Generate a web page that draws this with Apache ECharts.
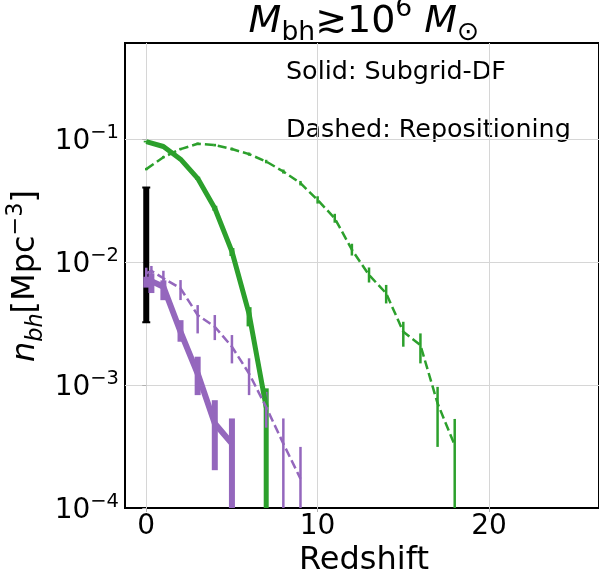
<!DOCTYPE html>
<html>
<head>
<meta charset="utf-8">
<script src="https://cdn.jsdelivr.net/npm/echarts@6/dist/echarts.min.js"></script>
<style>html,body{margin:0;padding:0;background:#fff}#c{width:599px;height:577px}</style>
</head>
<body>
<div id="c"></div>
<script>
// ---- data ----
const xTicks = [0, 10, 20];
const yTicks = [1e-4, 1e-3, 1e-2, 1e-1];

// Subgrid-DF (green, solid)
const gsZ  = [0, 1, 2, 3, 4, 5, 6, 7];
const gsN  = [0.0955, 0.0871, 0.0687, 0.048, 0.0274, 0.0122, 0.0038, 0.00066];
const gsLo = [0.094, 0.0855, 0.0672, 0.0466, 0.0262, 0.0112, 0.0030, 1e-6];
const gsHi = [0.097, 0.0887, 0.0702, 0.0494, 0.0287, 0.0130, 0.0043, 0.00094];

// Repositioning (green, dashed)
const gdZ  = [0, 1, 2, 3, 4, 5, 6, 7, 8, 9, 10, 11, 12, 13, 14, 15, 16, 17, 18];
const gdN  = [0.057, 0.0713, 0.083, 0.0916, 0.0894, 0.083, 0.0755, 0.0657, 0.0545, 0.0438, 0.032, 0.0227, 0.0126, 0.00785, 0.00557, 0.00271, 0.00211, 0.00071, 0.000324];
const gdLo = [0.0557, 0.0697, 0.0812, 0.0896, 0.0872, 0.0809, 0.0733, 0.0636, 0.0525, 0.0420, 0.0299, 0.0209, 0.0113, 0.00682, 0.00461, 0.00205, 0.0015, 0.000314, 1e-6];
const gdHi = [0.0583, 0.0730, 0.0849, 0.0937, 0.0916, 0.0852, 0.0778, 0.0679, 0.0566, 0.0457, 0.0343, 0.0247, 0.0141, 0.00904, 0.00652, 0.00327, 0.00263, 0.000966, 0.00053];

// Subgrid-DF (purple, solid)
const psZ  = [0, 0.3, 1, 2, 3, 4, 5];
const psN  = [0.00693, 0.0070, 0.0063, 0.00271, 0.00124, 0.000487, 0.000334];
const psLo = [0.0062, 0.0056, 0.0049, 0.00225, 0.000828, 0.000203, 1e-6];
const psHi = [0.0076, 0.0081, 0.0071, 0.00337, 0.0017, 0.000753, 0.000535];

// Repositioning (purple, dashed)
const pdZ  = [0, 0.3, 1, 2, 3, 4, 5, 6, 7, 8, 9];
const pdN  = [0.0081, 0.0085, 0.00738, 0.00612, 0.00371, 0.00298, 0.00205, 0.00124, 0.00066, 0.000334, 0.000173];
const pdLo = [0.0072, 0.0070, 0.0064, 0.00491, 0.00263, 0.00232, 0.0015, 0.000828, 0.00045, 1e-6, 1e-6];
const pdHi = [0.0090, 0.0093, 0.0085, 0.00714, 0.00447, 0.00371, 0.00255, 0.00165, 0.00088, 0.000535, 0.000314];

// Observational constraint (black)
const obsZ = [0];
const obsLo = [0.00324];
const obsHi = [0.0404];

// ---- chart ----
const FF = 'DejaVu Sans';
const GREEN = '#2ca02c', PURPLE = '#9467bd';
const chart = echarts.init(document.getElementById('c'), null, {renderer: 'canvas'});

function pts(z, n) { return z.map((v, i) => [v, n[i]]); }
function errs(z, lo, hi) { return z.map((v, i) => [v, lo[i], hi[i]]); }

function errRender(width, color, cap) {
  return function (params, api) {
    const x = api.value(0), lo = api.value(1), hi = api.value(2);
    const p1 = api.coord([x, hi]);
    const p2 = api.coord([x, lo]);
    const cs = params.coordSys;
    const yTop = cs.y, yBot = cs.y + cs.height;
    const y1 = Math.max(p1[1], yTop), y2 = Math.min(p2[1], yBot);
    const children = [{type: 'line', shape: {x1: p1[0], y1: y1, x2: p1[0], y2: y2},
      style: {stroke: color, lineWidth: width, lineCap: 'butt'}}];
    if (cap) {
      children.push({type: 'line', shape: {x1: p1[0] - cap, y1: y1, x2: p1[0] + cap, y2: y1}, style: {stroke: color, lineWidth: 2}});
      children.push({type: 'line', shape: {x1: p1[0] - cap, y1: y2, x2: p1[0] + cap, y2: y2}, style: {stroke: color, lineWidth: 2}});
    }
    return {type: 'group', children: children};
  };
}

function lineSeries(z, n, color, width, dashed) {
  return {
    type: 'line', data: pts(z, n), symbol: 'none', smooth: false, clip: true,
    lineStyle: {color: color, width: width, type: dashed ? [9, 4] : 'solid', cap: 'butt', join: 'round'},
    z: 3, animation: false
  };
}
function errSeries(z, lo, hi, color, width, cap) {
  return {
    type: 'custom', data: errs(z, lo, hi), renderItem: errRender(width, color, cap),
    encode: {x: 0, y: [1, 2]}, z: 3, animation: false, clip: true
  };
}

const tickFmt = v => {
  const e = Math.round(Math.log10(v));
  return '{b|10}{s|\u2212' + Math.abs(e) + '}';
};

const option = {
  animation: false,
  backgroundColor: '#fff',
  grid: {left: 125, top: 43, right: -4, bottom: 69, show: true, borderColor: '#000', borderWidth: 2, backgroundColor: 'transparent'},
  xAxis: {
    type: 'value', min: -1.24, max: 26.42, splitNumber: 3,
    axisLine: {show: false},
    axisTick: {show: true, length: 4, lineStyle: {color: '#b0b0b0', width: 1}},
    axisLabel: {fontFamily: FF, fontSize: 28, color: '#000', margin: 5, showMinLabel: false, showMaxLabel: false,
      formatter: v => (xTicks.indexOf(v) >= 0 ? String(v) : '')},
    splitLine: {show: true, showMinLine: false, showMaxLine: false, lineStyle: {color: '#d6d6d6', width: 1}}
  },
  yAxis: {
    type: 'log', logBase: 10, min: yTicks[0], max: 0.605,
    axisLine: {show: false},
    axisTick: {show: true, length: 4, lineStyle: {color: '#b0b0b0', width: 1}},
    axisLabel: {
      fontFamily: FF, color: '#000', margin: 6, showMaxLabel: false,
      formatter: tickFmt,
      rich: {
        b: {fontFamily: FF, fontSize: 28, verticalAlign: 'bottom', color: '#000'},
        s: {fontFamily: FF, fontSize: 19.5, verticalAlign: 'bottom', padding: [0, 0, 12.8, 0], color: '#000'}
      }
    },
    splitLine: {show: true, showMinLine: false, showMaxLine: false, lineStyle: {color: '#d6d6d6', width: 1}}
  },
  series: [
    errSeries(obsZ, obsLo, obsHi, '#000', 6, 4),
    lineSeries(gsZ, gsN, GREEN, 5, false),
    errSeries(gsZ, gsLo, gsHi, GREEN, 5),
    lineSeries(psZ, psN, PURPLE, 6, false),
    errSeries(psZ, psLo, psHi, PURPLE, 6),
    lineSeries(gdZ, gdN, GREEN, 2.5, true),
    errSeries(gdZ, gdLo, gdHi, GREEN, 2.5),
    lineSeries(pdZ, pdN, PURPLE, 2.5, true),
    errSeries(pdZ, pdLo, pdHi, PURPLE, 2.5)
  ],
  graphic: [
    { // title
      type: 'text', x: 364, y: 46.85, silent: true,
      style: {
        text: '{m|M}{sb|bh}{n|\u227310}{sp|6}{n| }{m|M}{sb|\u2299}',
        textAlign: 'center', textVerticalAlign: 'bottom',
        fontFamily: FF, fontSize: 38, fill: '#000',
        rich: {
          m: {fontFamily: FF, fontSize: 38, fontStyle: 'italic', verticalAlign: 'bottom', padding: [0, 0, 6, 0]},
          n: {fontFamily: FF, fontSize: 38, verticalAlign: 'bottom', padding: [0, 0, 6, 0]},
          sb: {fontFamily: FF, fontSize: 26.6, verticalAlign: 'bottom', padding: [0, 0, 0.75, 0]},
          sp: {fontFamily: FF, fontSize: 26.6, verticalAlign: 'bottom', padding: [0, 0, 24.45, 0]}
        }
      }
    },
    {
      type: 'text', x: 286, y: 81.7 - 8.8, silent: true,
      style: {text: 'Solid: Subgrid-DF', fontFamily: FF, fontSize: 25.4, fill: '#000', textAlign: 'left', textVerticalAlign: 'middle'}
    },
    {
      type: 'text', x: 286, y: 139.3 - 8.8, silent: true,
      style: {text: 'Dashed: Repositioning', fontFamily: FF, fontSize: 25.4, fill: '#000', textAlign: 'left', textVerticalAlign: 'middle'}
    },
    {
      type: 'text', x: 364, y: 571.7 - 11.07, silent: true,
      style: {text: 'Redshift', fontFamily: FF, fontSize: 32, fill: '#000', textAlign: 'center', textVerticalAlign: 'middle'}
    },
    { // y-axis label, rotated
      type: 'text', x: 47.9, y: 276, rotation: Math.PI / 2, silent: true,
      style: {
        text: '{i|n}{is|bh}{r|[Mpc}{sp|\u22123}{r|]}',
        textAlign: 'center', textVerticalAlign: 'bottom',
        fontFamily: FF, fontSize: 32, fill: '#000',
        rich: {
          i: {fontFamily: FF, fontSize: 32, fontStyle: 'italic', verticalAlign: 'bottom', padding: [0, 0, 6, 0]},
          is: {fontFamily: FF, fontSize: 22.4, fontStyle: 'italic', verticalAlign: 'bottom', padding: [0, 0, 1, 0]},
          r: {fontFamily: FF, fontSize: 32, verticalAlign: 'bottom', padding: [0, 0, 6, 0]},
          sp: {fontFamily: FF, fontSize: 22.4, verticalAlign: 'bottom', padding: [0, 0, 20.5, 0]}
        }
      }
    }
  ]
};
chart.setOption(option);
</script>
</body>
</html>
